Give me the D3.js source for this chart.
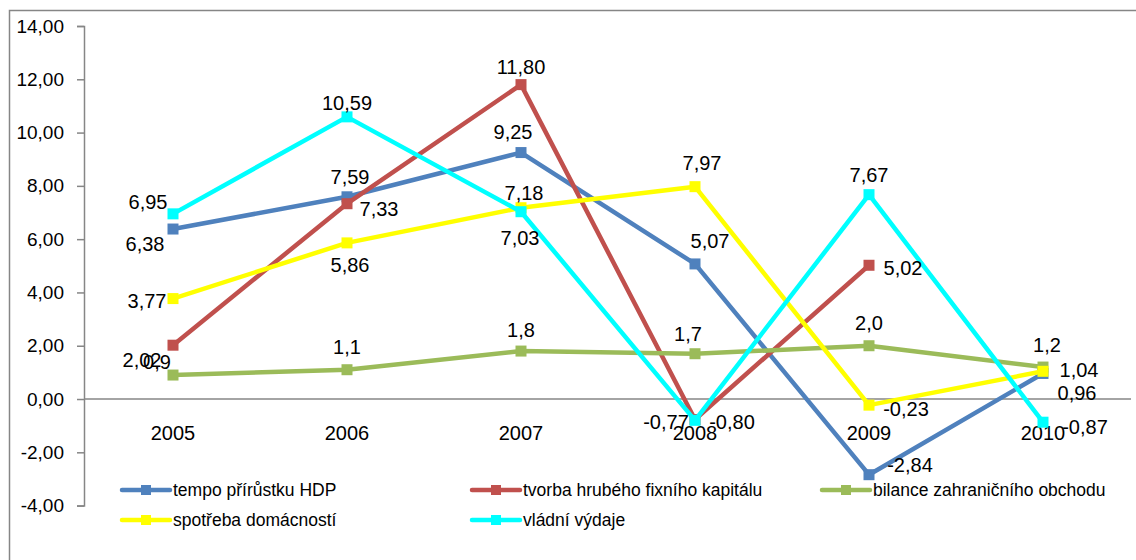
<html>
<head>
<script src="https://d3js.org/d3.v7.min.js"></script>
<style>
  body { margin: 0; background: #fff; }
  text { font-family: "Liberation Sans", Arial, sans-serif; fill: #000; }
</style>
</head>
<body>
<svg id="chart" width="1136" height="560"></svg>
<script>
// data
const years = ["2005", "2006", "2007", "2008", "2009", "2010"];
const yTicks = [-4, -2, 0, 2, 4, 6, 8, 10, 12, 14];

const hdp      = [6.38, 7.59, 9.25, 5.07, -2.84, 0.96];
const kapital  = [2.02, 7.33, 11.80, -0.77, 5.02, null];
const bilance  = [0.9, 1.1, 1.8, 1.7, 2.0, 1.2];
const spotreba = [3.77, 5.86, 7.18, 7.97, -0.23, 1.04];
const vydaje   = [6.95, 10.59, 7.03, -0.80, 7.67, -0.87];

const series = [
  { name: "tempo přírůstku HDP", values: hdp, color: "#4F81BD", digits: 2 },
  { name: "tvorba hrubého fixního kapitálu", values: kapital, color: "#C0504D", digits: 2 },
  { name: "bilance zahraničního obchodu", values: bilance, color: "#9BBB59", digits: 1 },
  { name: "spotřeba domácností", values: spotreba, color: "#FFFF00", digits: 2 },
  { name: "vládní výdaje", values: vydaje, color: "#00FFFF", digits: 2 }
];

// label offsets (dx, dy) from each point, as placed in the original
const labelOffsets = [
  [[-28, 15], [3, -20], [-8, -21], [15, -23], [41, -10], [34, 20]],
  [[-31, 15], [32, 5], [0, -18], [-29, 2], [34, 3], null],
  [[-16, -13], [0, -23], [0, -21], [-7, -20], [0, -23], [4, -22]],
  [[-26, 2], [3, 22], [3, -15], [7, -24], [37, 4], [36, -1]],
  [[-25, -12], [0, -14], [-1, 26], [37, 2], [0, -20], [42, 5]]
];

const svg = d3.select("#chart");
const fmt = (v, d) => v.toFixed(d).replace(".", ",");

// frame
svg.append("rect")
  .attr("x", 9.5).attr("y", 10.5)
  .attr("width", 1140).attr("height", 560)
  .attr("fill", "none").attr("stroke", "#868686").attr("stroke-width", 1.5);

let x = d3.scalePoint().domain(years).range([86, 1130]).padding(0.5);
let y = d3.scaleLinear().domain([-4, 14]).range([505.6, 26]);

// y axis
let yAxis = d3.axisLeft(y).tickValues(yTicks).tickSize(7).tickPadding(13)
  .tickFormat(d => fmt(d, 2));
let ga = svg.append("g").attr("transform", "translate(84,0)").call(yAxis);
ga.select(".domain").attr("stroke", "#868686").attr("stroke-width", 1.5);
ga.selectAll(".tick line").attr("stroke", "#868686").attr("stroke-width", 1.5);
ga.selectAll(".tick text").style("font-size", "19px").attr("fill", "#000");

// zero line
svg.append("line")
  .attr("x1", 84).attr("x2", 1131)
  .attr("y1", y(0)).attr("y2", y(0))
  .attr("stroke", "#868686").attr("stroke-width", 1.5);

// category labels
svg.selectAll("text.year")
  .data(years)
  .join("text")
  .attr("class", "year")
  .attr("x", d => x(d))
  .attr("y", y(0) + 34)
  .attr("text-anchor", "middle")
  .attr("dominant-baseline", "central")
  .style("font-size", "20px")
  .text(d => d);

let line = d3.line()
  .defined(d => d.v !== null)
  .x(d => x(d.year))
  .y(d => y(d.v));

series.forEach(s => {
  let pts = years.map((yr, i) => ({ year: yr, v: s.values[i] }));
  let g = svg.append("g");
  g.append("path")
    .attr("d", line(pts))
    .attr("fill", "none")
    .attr("stroke", s.color)
    .attr("stroke-width", 4.5)
    .attr("stroke-linejoin", "round");
  g.selectAll("rect")
    .data(pts.filter(d => d.v !== null))
    .join("rect")
    .attr("x", d => x(d.year) - 5.5)
    .attr("y", d => y(d.v) - 5.5)
    .attr("width", 11).attr("height", 11)
    .attr("fill", s.color);
});

// data labels
series.forEach((s, si) => {
  s.values.forEach((v, i) => {
    if (v === null) return;
    let off = labelOffsets[si][i];
    svg.append("text")
      .attr("x", x(years[i]) + off[0])
      .attr("y", y(v) + off[1])
      .attr("text-anchor", "middle")
      .attr("dominant-baseline", "central")
      .style("font-size", "20px")
      .text(fmt(v, s.digits));
  });
});

// legend
let legendPos = [[122, 490], [472, 490], [822, 490], [122, 520], [472, 520]];
series.forEach((s, i) => {
  let [lx, ly] = legendPos[i];
  let g = svg.append("g").attr("transform", `translate(${lx},${ly})`);
  g.append("line").attr("x1", 0).attr("x2", 48)
    .attr("stroke", s.color).attr("stroke-width", 4.5).attr("stroke-linecap", "round");
  g.append("rect").attr("x", 19).attr("y", -5).attr("width", 10).attr("height", 10)
    .attr("fill", s.color);
  g.append("text").attr("x", 51).attr("y", 0)
    .attr("dominant-baseline", "central")
    .style("font-size", "17.5px")
    .text(s.name);
});
</script>
</body>
</html>
